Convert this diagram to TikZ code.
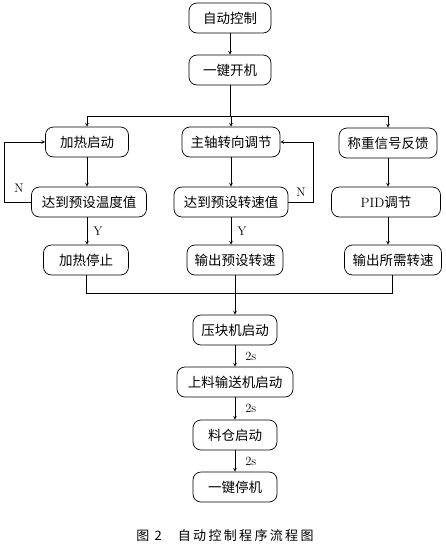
\documentclass[tikz,border=0pt]{standalone}
\usepackage{fontspec}
\usepackage{tikz}
\newfontfamily\cjk{Noto Sans CJK SC}
\newfontfamily\cjkcap[LetterSpace=18]{Noto Sans CJK SC}
\tikzset{
	flow box/.style={
		draw,
		rounded corners=8pt,
		minimum height=30pt,
		inner sep=0pt,
		font=\cjk\fontsize{13.5}{15}\selectfont
	},
	flow label/.style={
		inner sep=2pt,
		font=\fontsize{12.5}{14}\selectfont
	},
}

\begin{document}
\begin{tikzpicture}[x=1pt, y=-1pt, >=stealth, line width=0.7pt]
\useasboundingbox (0,0) rectangle (446,544);

\foreach \n/\t/\x/\y/\w in {auto/自动控制/230/18/82, kaiji/一键开机/230/70/82,
		heat/加热启动/87/142/83, heattest/达到预设温度值/89/202/115, heatstop/加热停止/86/260/85,
		spin/主轴转向调节/231/142/98, spintest/达到预设转速值/231/202/114, spinout/输出预设转速/235/260/96,
		weigh/称重信号反馈/388/143/98, pid/\textrm{PID}调节/386/202/109, needout/输出所需转速/393/260/97,
		press/压块机启动/235/330/84, feed/上料输送机启动/235/382/116, bin/料仓启动/235/435/84,
		stopall/一键停机/235/487/84}
	\node [flow box, minimum width=\w pt] (\n) at (\x,\y) {\t};

\coordinate (bus1) at (230,116);
\coordinate (bus2) at (235,293);

\draw [->] (auto) -- (kaiji);
\draw (kaiji) -- (bus1);
\foreach \n in {heat,spin}
	\draw [->] (bus1) -| (\n);
\draw [->] (bus1) -| (weigh);

% left column
\draw [->] (heat) -- (heat |- heattest.north);
\draw [->] (heattest.south -| heat) -- (heat |- heatstop.north)
	node [flow label, midway, right=4pt] (yleft) {Y};
\draw [->] (heattest.west) -- ++(-27,0) |- (heat.west);
\node [flow label] (nleft) at (19,188) {N};

% middle column
\draw [->] (spin) -- (spintest);
\draw [->] (spintest) -- (spin |- spinout.north)
	node [flow label, midway, right=4pt] (ymid) {Y};
\draw [->] (spintest.east) -- ++(25,0) |- (spin.east);
\node [flow label] (nmid) at (301,192) {N};

% right column
\draw [->] (weigh) -- (weigh |- pid.north);
\draw [->] (pid.south -| weigh) -- (weigh |- needout.north);

% joining
\draw (heatstop) |- (bus2);
\draw (needout.south -| 392,0) |- (bus2);
\draw (spinout) |- (bus2);
\draw [->] (bus2) -- (press);

\foreach \a/\b in {press/feed, feed/bin, bin/stopall}
	\draw [->] (\a) -- (\b)
		node [flow label, midway, right=8pt] (\a-delay) {2s};

\node [font=\cjkcap\fontsize{13}{15}\selectfont] (caption) at (225,536)
	{图 2\hspace{16pt}自动控制程序流程图};

\end{tikzpicture}
\end{document}
